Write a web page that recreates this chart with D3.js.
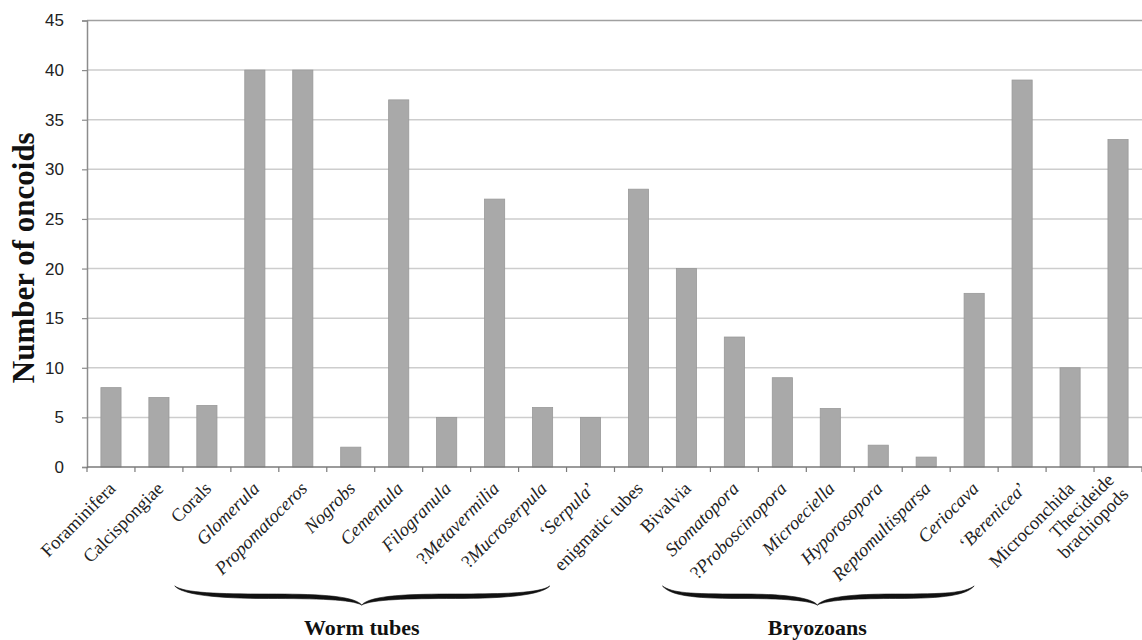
<!DOCTYPE html>
<html>
<head>
<meta charset="utf-8">
<script src="https://cdn.jsdelivr.net/npm/d3@7"></script>
<style>
  html, body { margin: 0; padding: 0; background: #fff; }
  svg { display: block; }
</style>
</head>
<body>
<svg id="chart" width="1142" height="640"></svg>
<script>
// ---- data ----
const categories = ["Foraminifera","Calcispongiae","Corals","Glomerula","Propomatoceros","Nogrobs","Cementula","Filogranula","?Metavermilia","?Mucroserpula","'Serpula'","enigmatic tubes","Bivalvia","Stomatopora","?Proboscinopora","Microeciella","Hyporosopora","Reptomultisparsa","Ceriocava","'Berenicea'","Microconchida","Thecideide brachiopods"];
const values = [8, 7, 6.2, 40, 40, 2, 37, 5, 27, 6, 5, 28, 20, 13.1, 9, 5.9, 2.2, 1, 17.5, 39, 10, 33];
// label parts: [text, italic?] ; lines separated
const labelParts = [
  [[["Foraminifera",0]]],
  [[["Calcispongiae",0]]],
  [[["Corals",0]]],
  [[["Glomerula",1]]],
  [[["Propomatoceros",1]]],
  [[["Nogrobs",1]]],
  [[["Cementula",1]]],
  [[["Filogranula",1]]],
  [[["?",0],["Metavermilia",1]]],
  [[["?",0],["Mucroserpula",1]]],
  [[["\u2018",0],["Serpula",1],["\u2019",0]]],
  [[["enigmatic tubes",0]]],
  [[["Bivalvia",0]]],
  [[["Stomatopora",1]]],
  [[["?",0],["Proboscinopora",1]]],
  [[["Microeciella",1]]],
  [[["Hyporosopora",1]]],
  [[["Reptomultisparsa",1]]],
  [[["Ceriocava",1]]],
  [[["\u2018",0],["Berenicea",1],["\u2019",0]]],
  [[["Microconchida",0]]],
  [[["Thecideide",0]],[["brachiopods",0]]]
];
const yTicks = [0,5,10,15,20,25,30,35,40,45];
// brace spans in category-slot units
const groups = [
  {name: "Worm tubes", from: 1.83, to: 9.65, tipAt: 5.73},
  {name: "Bryozoans", from: 12.0, to: 18.5, tipAt: 15.23}
];
const yTitle = "Number of oncoids";

// ---- layout ----
const svg = d3.select("#chart");
const pLeft = 87, pRight = 1142, pTop = 20.5, pBottom = 467;
const x = d3.scaleBand().domain(categories).range([pLeft, pRight]).paddingInner(0.58).paddingOuter(0.29);
const y = d3.scaleLinear().domain([0, 45]).range([pBottom, pTop]);
const step = x.step();
const boundary = i => pLeft + step * i;

// gridlines
svg.append("g").selectAll("line").data(yTicks.filter(d => d > 0)).join("line")
  .attr("x1", pLeft).attr("x2", pRight)
  .attr("y1", d => y(d)).attr("y2", d => y(d))
  .attr("stroke", d => d === 45 ? "#a0a0a0" : "#cdcdcd")
  .attr("stroke-width", 1.5);

// y axis
const yAxis = svg.append("g").attr("transform", `translate(${pLeft},0)`)
  .call(d3.axisLeft(y).tickValues(yTicks).tickSize(5).tickPadding(6));
yAxis.select(".domain").attr("stroke", "#8c8c8c").attr("stroke-width", 1.5);
yAxis.selectAll(".tick line").attr("stroke", "#8c8c8c").attr("stroke-width", 1.2);
yAxis.selectAll(".tick text").attr("font-family", "'Liberation Sans', Arial, sans-serif")
  .attr("font-size", 17).attr("fill", "#222").attr("dx", -12);

// bars
svg.append("g").selectAll("rect").data(values).join("rect")
  .attr("x", (d, i) => x(categories[i]))
  .attr("y", d => y(d))
  .attr("width", x.bandwidth())
  .attr("height", d => y(0) - y(d))
  .attr("fill", "#a9a9a9")
  .attr("stroke", "#999")
  .attr("stroke-width", 0.8);

// x axis line and boundary ticks
svg.append("line").attr("x1", pLeft).attr("x2", pRight).attr("y1", y(0)).attr("y2", y(0))
  .attr("stroke", "#7a7a7a").attr("stroke-width", 1.5);
svg.append("g").selectAll("line").data(d3.range(categories.length + 1)).join("line")
  .attr("x1", i => boundary(i)).attr("x2", i => boundary(i))
  .attr("y1", y(0)).attr("y2", y(0) + 5)
  .attr("stroke", "#7a7a7a").attr("stroke-width", 1.2);

// category labels
const serif = "'Liberation Serif', 'Times New Roman', serif";
const lab = svg.append("g");
categories.forEach((c, i) => {
  const cx = x(c) + x.bandwidth() / 2;
  const lines = labelParts[i];
  const t = lab.append("text")
    .attr("transform", `translate(${cx + 1},${y(0) + 18}) rotate(-45)`)
    .attr("text-anchor", "end")
    .attr("font-family", serif)
    .attr("font-size", 18.5)
    .attr("fill", "#222");
  lines.forEach((parts, li) => {
    parts.forEach((p, pi) => {
      const ts = t.append("tspan").text(p[0]).attr("font-style", p[1] ? "italic" : "normal");
      if (pi === 0) {
        ts.attr("x", 0).attr("dy", lines.length > 1 ? (li === 0 ? "-0.3em" : "1.1em") : "0.35em");
      }
    });
  });
});

// y title
svg.append("text")
  .attr("transform", `translate(34,${(pTop + pBottom) / 2 + 14}) rotate(-90)`)
  .attr("text-anchor", "middle")
  .attr("font-family", serif).attr("font-weight", "bold")
  .attr("font-size", 31).attr("fill", "#111")
  .text(yTitle);

// braces
function bracePath(x0, x1, xm, y0) {
  const armU = y0 + 8, armL = y0 + 12.5, tip = y0 + 19;
  const la = (x0 + xm) / 2, ra = (xm + x1) / 2;
  return [
    `M${x0},${y0}`,
    `C${x0 + 10},${y0 + 7} ${la - 50},${armU} ${la},${armU}`,
    `C${xm - 50},${armU} ${xm - 8},${armU + 1} ${xm},${tip}`,
    `C${xm + 8},${armU + 1} ${xm + 50},${armU} ${ra},${armU}`,
    `C${ra + 50},${armU} ${x1 - 10},${y0 + 7} ${x1},${y0}`,
    `C${x1 - 8},${y0 + 9} ${ra + 50},${armL} ${ra},${armL}`,
    `C${xm + 45},${armL} ${xm + 10},${armL + 1} ${xm},${tip}`,
    `C${xm - 10},${armL + 1} ${xm - 45},${armL} ${la},${armL}`,
    `C${la - 50},${armL} ${x0 + 8},${y0 + 9} ${x0},${y0}`,
    "Z"
  ].join(" ");
}
groups.forEach(g => {
  const x0 = boundary(g.from);
  const x1 = boundary(g.to);
  const xm = boundary(g.tipAt);
  svg.append("path").attr("d", bracePath(x0, x1, xm, 586))
    .attr("fill", "#111").attr("stroke", "#111").attr("stroke-width", 0.6);
  svg.append("text").attr("x", xm).attr("y", 635)
    .attr("text-anchor", "middle")
    .attr("font-family", serif).attr("font-weight", "bold")
    .attr("font-size", 22).attr("fill", "#111")
    .text(g.name);
});
</script>
</body>
</html>
